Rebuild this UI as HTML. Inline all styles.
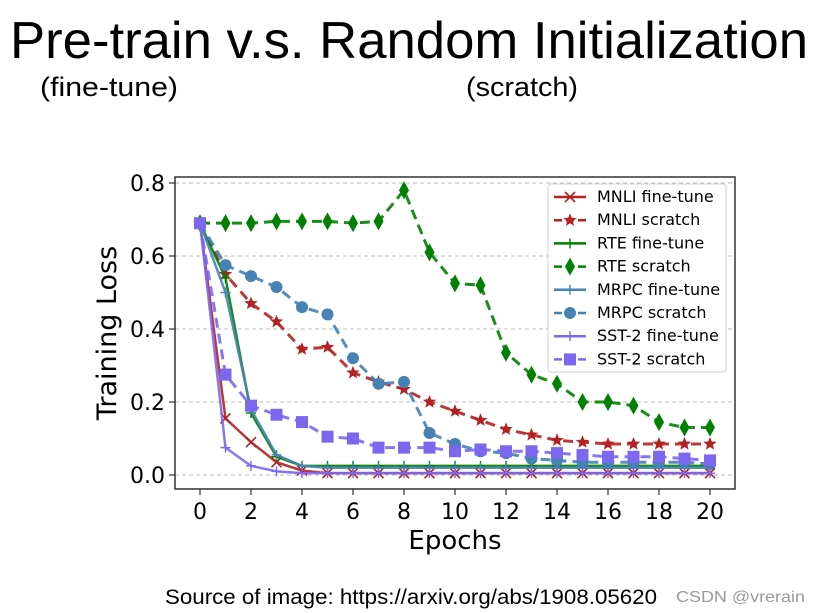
<!DOCTYPE html>
<html><head><meta charset="utf-8"><style>
body{margin:0;width:819px;height:613px;background:#fff;overflow:hidden;font-family:"Liberation Sans","DejaVu Sans",sans-serif;position:relative}
</style></head><body>
<svg id="txt" width="819" height="613" style="position:absolute;left:0;top:0" font-family="Liberation Sans, DejaVu Sans, sans-serif">
<text x="10" y="58" font-size="52" textLength="798" lengthAdjust="spacingAndGlyphs">Pre-train v.s. Random Initialization</text>
<text x="40" y="96" font-size="27" textLength="138" lengthAdjust="spacingAndGlyphs">(fine-tune)</text>
<text x="466" y="96" font-size="27" textLength="112" lengthAdjust="spacingAndGlyphs">(scratch)</text>
<text x="165" y="604" font-size="21" textLength="492" lengthAdjust="spacingAndGlyphs">Source of image: https://arxiv.org/abs/1908.05620</text>
<text x="676" y="602" font-size="16" fill="#999" textLength="129" lengthAdjust="spacingAndGlyphs">CSDN @vrerain</text>
</svg>
<svg id="chart" width="819" height="613" style="position:absolute;left:0;top:0"></svg>
<script>
const epochs=[0,1,2,3,4,5,6,7,8,9,10,11,12,13,14,15,16,17,18,19,20];
const mnliFine=[.69,.155,.09,.035,.012,.005,.005,.005,.005,.005,.005,.005,.005,.005,.005,.005,.005,.005,.005,.005,.005];
const mnliScratch=[.69,.55,.47,.42,.345,.35,.28,.255,.235,.2,.175,.15,.125,.11,.095,.09,.085,.085,.085,.085,.085];
const rteFine=[.69,.54,.17,.05,.025,.025,.025,.025,.025,.025,.025,.025,.025,.025,.025,.025,.025,.025,.025,.025,.025];
const rteScratch=[.69,.69,.69,.695,.695,.695,.69,.695,.78,.61,.525,.52,.335,.275,.25,.2,.2,.19,.145,.13,.13];
const mrpcFine=[.69,.5,.18,.055,.025,.02,.02,.02,.02,.02,.02,.02,.02,.02,.02,.02,.02,.02,.02,.02,.02];
const mrpcScratch=[.69,.575,.545,.515,.46,.44,.32,.25,.255,.115,.085,.065,.06,.045,.04,.035,.035,.035,.035,.035,.03];
const sstFine=[.69,.075,.025,.01,.005,.005,.005,.005,.005,.005,.005,.005,.005,.005,.005,.005,.005,.005,.005,.005,.005];
const sstScratch=[.69,.275,.19,.165,.145,.105,.1,.075,.075,.075,.065,.07,.065,.065,.06,.055,.05,.05,.05,.045,.04];
const xTicks=[0,2,4,6,8,10,12,14,16,18,20];
const yTicks=[0,0.2,0.4,0.6,0.8];
const yTickLabels=["0.0","0.2","0.4","0.6","0.8"];
const NS="http://www.w3.org/2000/svg";
const svg=document.getElementById('chart');
const L=175,R=735,T=177,B=489;
const X=v=>200+v*25.5;
const Y=v=>475-v*(292/0.8);
function mk(tag,attrs,parent){const e=document.createElementNS(NS,tag);for(const k in attrs)e.setAttribute(k,attrs[k]);(parent||svg).appendChild(e);return e;}
yTicks.forEach((v,i)=>{
 const g=mk('line',{x1:L,x2:R,y1:Y(v),y2:Y(v),stroke:'#bbb','stroke-dasharray':'4,3','stroke-width':1});
 
 
 mk('line',{x1:L-6,x2:L,y1:Y(v),y2:Y(v),stroke:'#333','stroke-width':1.2});
 const t=mk('text',{x:L-10,y:Y(v)+8,'text-anchor':'end','font-size':22,'font-family':'DejaVu Sans,sans-serif'});
 t.textContent=yTickLabels[i];
 
 
});
xTicks.forEach(v=>{
 mk('line',{x1:X(v),x2:X(v),y1:B,y2:B+6,stroke:'#333','stroke-width':1.2});
 const t=mk('text',{x:X(v),y:B+30,'text-anchor':'middle','font-size':22,'font-family':'DejaVu Sans,sans-serif'});
 t.textContent=v;
 
 
});
const xt=mk('text',{x:455,y:549,'text-anchor':'middle','font-size':26,'font-family':'DejaVu Sans,sans-serif'});xt.textContent='Epochs';


const yt=mk('text',{x:0,y:0,'text-anchor':'middle','font-size':27,'font-family':'DejaVu Sans,sans-serif',transform:'translate(116,333) rotate(-90)'});yt.textContent='Training Loss';


function marker(type,x,y,c,p){
 if(type==='x'){mk('path',{d:`M${x-5},${y-5}L${x+5},${y+5}M${x-5},${y+5}L${x+5},${y-5}`,stroke:c,'stroke-width':1.6,fill:'none'},p);}
 else if(type==='star'){let d='';for(let i=0;i<10;i++){const r=i%2?3:7,a=-Math.PI/2+i*Math.PI/5;d+=(i?'L':'M')+(x+r*Math.cos(a)).toFixed(1)+','+(y+r*Math.sin(a)).toFixed(1);}mk('path',{d:d+'Z',fill:c},p);}
 else if(type==='plus'){mk('path',{d:`M${x-5},${y}L${x+5},${y}M${x},${y-5}L${x},${y+5}`,stroke:c,'stroke-width':1.4},p);}
 else if(type==='diamond'){mk('path',{d:`M${x},${y-9}L${x+5},${y}L${x},${y+9}L${x-5},${y}Z`,fill:c},p);}
 else if(type==='circle'){mk('circle',{cx:x,cy:y,r:6,fill:c},p);}
 else if(type==='square'){mk('rect',{x:x-6,y:y-6,width:12,height:12,fill:c},p);}
}
const series=[
 ['mnli-fine-tune','MNLI fine-tune',mnliFine,'#b22222',false,'x'],
 ['mnli-scratch','MNLI scratch',mnliScratch,'#b22222',true,'star'],
 ['rte-fine-tune','RTE fine-tune',rteFine,'#008000',false,'plus'],
 ['rte-scratch','RTE scratch',rteScratch,'#008000',true,'diamond'],
 ['mrpc-fine-tune','MRPC fine-tune',mrpcFine,'#4682b4',false,'plus'],
 ['mrpc-scratch','MRPC scratch',mrpcScratch,'#4682b4',true,'circle'],
 ['sst2-fine-tune','SST-2 fine-tune',sstFine,'#7b68ee',false,'plus'],
 ['sst2-scratch','SST-2 scratch',sstScratch,'#7b68ee',true,'square']];
series.forEach(s=>{
 const g=mk('g',{});
 
 
 const pts=s[2].map((v,i)=>X(epochs[i])+','+Y(v)).join(' ');
 mk('polyline',{points:pts,fill:'none',stroke:s[3],'stroke-width':s[4]?3:2.5,'stroke-dasharray':s[4]?'10,6':'none',opacity:0.9},g);
 s[2].forEach((v,i)=>marker(s[5],X(epochs[i]),Y(v),s[3],g));
});
const frame=mk('rect',{x:L,y:T,width:R-L,height:B-T,fill:'none',stroke:'#333','stroke-width':1.5});


const lg=mk('g',{});


mk('rect',{x:548,y:184,width:178,height:188,fill:'#fff',stroke:'#ccc',rx:3,opacity:0.9},lg);
series.forEach((s,i)=>{
 const y=197+i*23.2;
 const e=mk('g',{},lg);
 
 
 mk('line',{x1:554,x2:586,y1:y,y2:y,stroke:s[3],'stroke-width':2.5,'stroke-dasharray':s[4]?'8,4':'none'},e);
 marker(s[5],570,y,s[3],e);
 const t=mk('text',{x:597,y:y+5,'font-size':16,'font-family':'DejaVu Sans,sans-serif'},e);
 t.textContent=s[1];
});
</script>
</body></html>
